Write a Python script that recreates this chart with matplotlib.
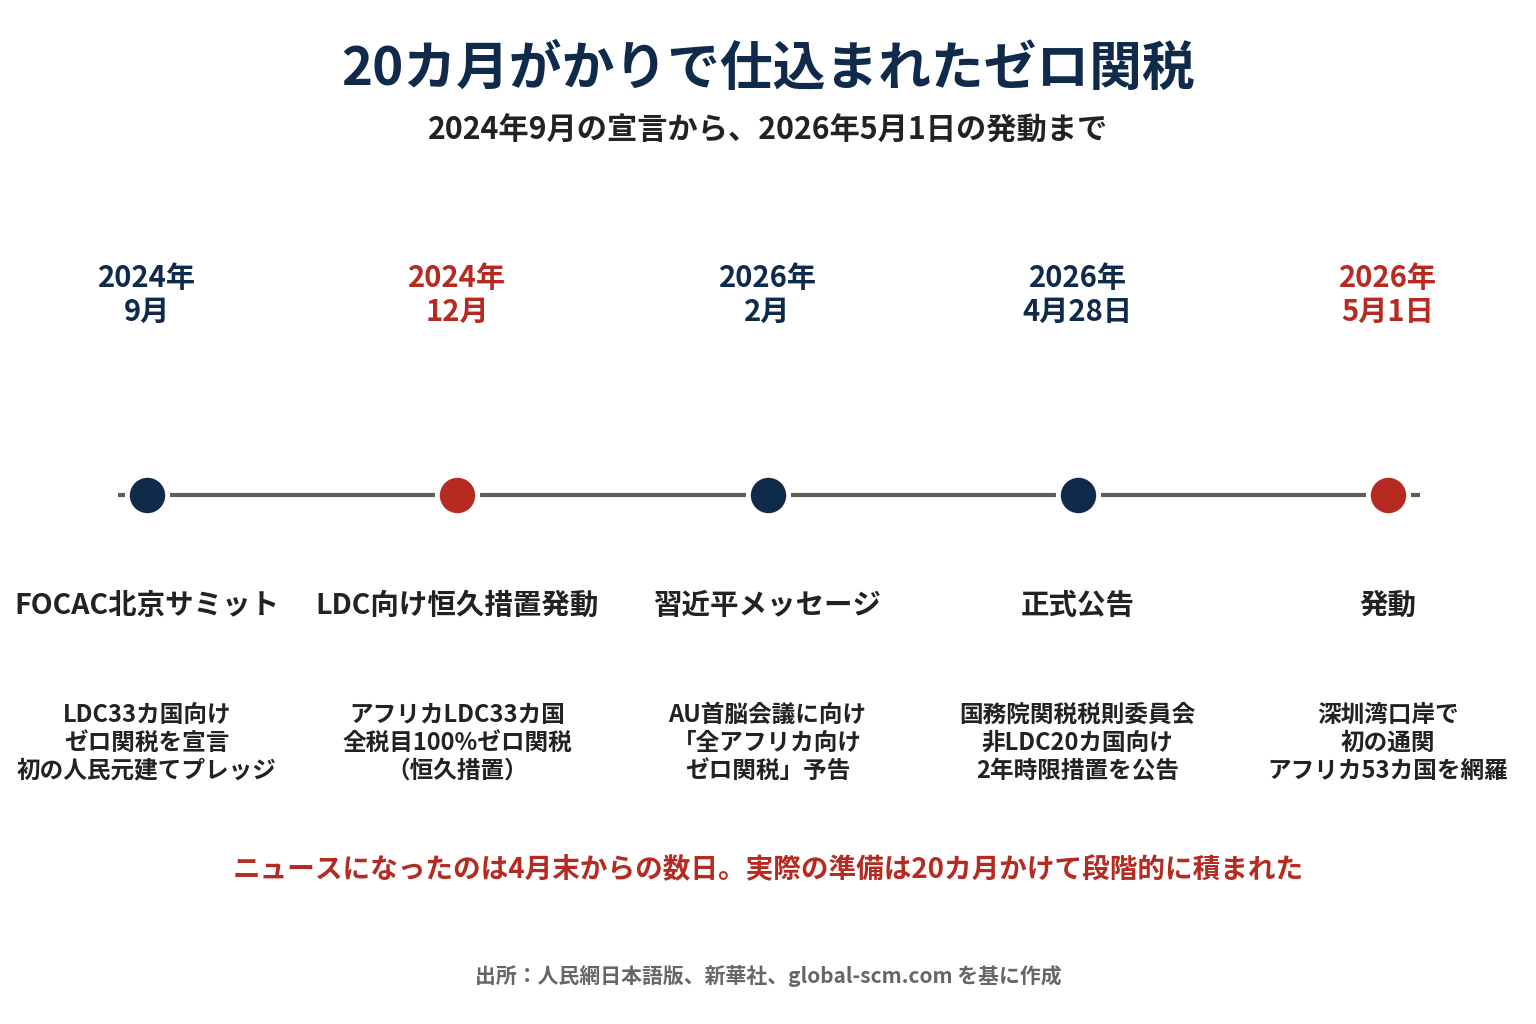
import matplotlib
matplotlib.use("Agg")
import matplotlib.pyplot as plt

plt.rcParams['font.family'] = ['Noto Sans CJK JP', 'DejaVu Sans']

NAVY = '#0f2a4a'
RED = '#b52b22'
GRAY_LINE = '#5c5c5c'
TEXT = '#222222'

title = '20カ月がかりで仕込まれたゼロ関税'
subtitle = '2024年9月の宣言から、2026年5月1日の発動まで'

dates = ['2024年\n9月', '2024年\n12月', '2026年\n2月', '2026年\n4月28日', '2026年\n5月1日']
events = ['FOCAC北京サミット', 'LDC向け恒久措置発動', '習近平メッセージ', '正式公告', '発動']
details = [
    'LDC33カ国向け\nゼロ関税を宣言\n初の人民元建てプレッジ',
    'アフリカLDC33カ国\n全税目100%ゼロ関税\n（恒久措置）',
    'AU首脳会議に向け\n「全アフリカ向け\nゼロ関税」予告',
    '国務院関税税則委員会\n非LDC20カ国向け\n2年時限措置を公告',
    '深圳湾口岸で\n初の通関\nアフリカ53カ国を網羅',
]
highlight = [False, True, False, False, True]
note = 'ニュースになったのは4月末からの数日。実際の準備は20カ月かけて段階的に積まれた'
source = '出所：人民網日本語版、新華社、global-scm.com を基に作成'

fig = plt.figure(figsize=(15.36, 10.24), dpi=100)
ax = fig.add_axes([0, 0, 1, 1])
xs = list(range(len(events)))
ax.set_xlim(-0.4738, 4.477)
ax.set_ylim(1024, 0)
ax.axis('off')

colors = [RED if h else NAVY for h in highlight]

# timeline
line_y = 495
ax.plot([xs[0] - 0.094, xs[-1] + 0.103], [line_y, line_y], color=GRAY_LINE, lw=3, zorder=1,
        solid_capstyle='butt')
for x, c in zip(xs, colors):
    ax.plot(x, line_y, 'o', ms=29, color=c, mec='white', mew=3.5, zorder=3)

for x, d, e, det, c in zip(xs, dates, events, details, colors):
    ax.text(x, 295, d, ha='center', va='center', fontsize=21, fontweight='bold',
            color=c, linespacing=1.18)
    ax.text(x, 606, e, ha='center', va='center', fontsize=20.5, fontweight='bold', color=TEXT)
    ax.text(x, 743, det, ha='center', va='center', fontsize=17, fontweight='bold',
            color=TEXT, linespacing=1.2)

fig.text(0.5, 1 - 69 / 1024, title, ha='center', va='center', fontsize=38,
         fontweight='bold', color=NAVY)
fig.text(0.5, 1 - 131 / 1024, subtitle, ha='center', va='center', fontsize=21.8,
         fontweight='bold', color=TEXT)
fig.text(0.5, 1 - 870 / 1024, note, ha='center', va='center', fontsize=19.9,
         fontweight='bold', color=RED)
fig.text(0.5, 1 - 976 / 1024, source, ha='center', va='center', fontsize=15,
         fontweight='bold', color='#666666')

fig.savefig('out.png', dpi=100, facecolor='white')
